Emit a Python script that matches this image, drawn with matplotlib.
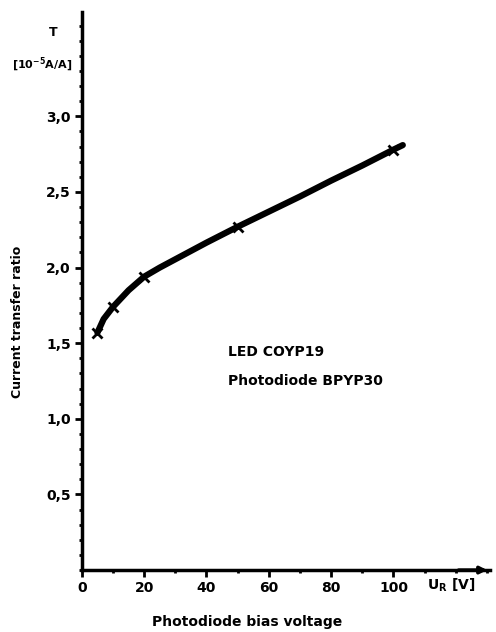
import matplotlib.pyplot as plt
from matplotlib.ticker import MultipleLocator, FuncFormatter

# measured points (photodiode bias voltage U_R [V], transfer ratio T [1e-5 A/A])
bias_pts = [5, 10, 20, 50, 100]
ratio_pts = [1.57, 1.74, 1.94, 2.27, 2.78]

# curve
bias_curve = [5, 7, 10, 15, 20, 25, 30, 40, 50, 60, 70, 80, 90, 100, 103]
ratio_curve = [1.57, 1.66, 1.74, 1.85, 1.94, 2.00, 2.055, 2.165, 2.27, 2.37, 2.47, 2.575, 2.675, 2.78, 2.81]

x_ticks = [0, 20, 40, 60, 80, 100]
y_ticks = [0.5, 1.0, 1.5, 2.0, 2.5, 3.0]

plt.rcParams['font.family'] = ['DejaVu Sans']
plt.rcParams['font.weight'] = 'bold'

fig = plt.figure(figsize=(4.96, 6.32), dpi=100)
ax = fig.add_axes([0.165, 0.098, 0.823, 0.883])

ax.plot(bias_curve, ratio_curve, color="black", linewidth=4.5,
        solid_capstyle="round", zorder=3)
ax.plot(bias_pts, ratio_pts, linestyle="none", marker="x", color="black",
        markersize=7, markeredgewidth=2, zorder=4)

ax.set_xlim(0, 131)
ax.set_ylim(0, 3.69)
ax.set_xticks(x_ticks)
ax.set_yticks(y_ticks)
ax.xaxis.set_minor_locator(MultipleLocator(10))
ax.yaxis.set_minor_locator(MultipleLocator(0.1))
ax.yaxis.set_major_formatter(FuncFormatter(lambda v, p: f"{v:.1f}".replace(".", ",")))

for s in ("top", "right"):
    ax.spines[s].set_visible(False)
for s in ("left", "bottom"):
    ax.spines[s].set_linewidth(2.5)

ax.tick_params(axis="both", which="major", direction="out", length=5, width=2,
               labelsize=10, pad=3)
ax.tick_params(axis="both", which="minor", direction="out", length=2.5, width=2)
for lab in ax.get_xticklabels() + ax.get_yticklabels():
    lab.set_fontweight("bold")

# axis arrow on x
ax.annotate("", xy=(131, 0), xytext=(120, 0),
            arrowprops=dict(arrowstyle="-|>", color="black", lw=2.5),
            annotation_clip=False)

fig.text(0.108, 0.948, "T", ha="center", va="center", fontsize=9, fontweight="bold")
fig.text(0.085, 0.897, r"[10$^{-5}$A/A]", ha="center", va="center", fontsize=8,
         fontweight="bold")
fig.text(0.035, 0.49, "Current transfer ratio", rotation=90, ha="center",
         va="center", fontsize=9, fontweight="bold")
fig.text(0.91, 0.074, r"U$_\mathregular{R}$ [V]", ha="center", va="center",
         fontsize=10, fontweight="bold")
fig.text(0.498, 0.016, "Photodiode bias voltage", ha="center", va="center",
         fontsize=10, fontweight="bold")

ax.text(47, 1.44, "LED COYP19", fontsize=10, fontweight="bold", va="center")
ax.text(47, 1.25, "Photodiode BPYP30", fontsize=10, fontweight="bold", va="center")

plt.savefig("out.png", dpi=100)
